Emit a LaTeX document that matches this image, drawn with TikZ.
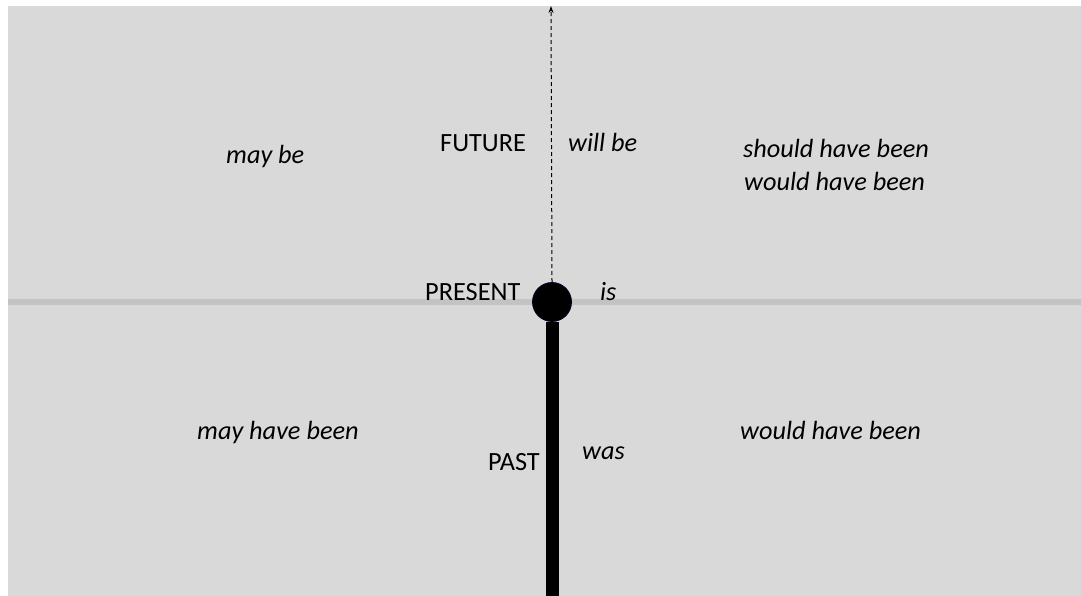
\documentclass[tikz,border=0pt]{standalone}
\usepackage{fontspec}
\setmainfont{Carlito}
\usetikzlibrary{arrows.meta}
\definecolor{bgray}{HTML}{D9D9D9}
\definecolor{lgray}{HTML}{C3C3C3}
\begin{document}
\begin{tikzpicture}[x=1pt,y=-1pt,
  lab/.style={anchor=base west,inner sep=0pt,yshift=-2pt,font=\fontsize{26.3}{32}\selectfont},
  ilab/.style={lab,font=\fontsize{26.3}{32}\selectfont\itshape}]
\useasboundingbox (0,0) rectangle (1081,596);
\fill[white] (0,0) rectangle (1081,596);
\fill[bgray] (8,6) rectangle (1081,596);
\coordinate (hl) at (8,302);
\coordinate (hr) at (1081,302);
\draw[lgray,line width=6pt] (hl) -- (hr);
\node[circle,fill=black,draw=black!85!blue,line width=0.8pt,minimum size=39pt,inner sep=0pt] (now) at (552,302) {};
\coordinate (top) at (551,6);
\coordinate (bot) at (552,596);
\draw[black,line width=13pt] (now.south) -- (bot);
\draw[black,line width=1pt,dash pattern=on 4pt off 3pt,-{Stealth[length=7pt,width=5pt]}] (now.north) -- (top);
\node[ilab] (maybe) at (226,162) {may be};
\node[lab] (future) at (440,150) {FUTURE};
\node[ilab] (willbe) at (568,150) {will be};
\node[ilab] (should) at (743,156) {should have been};
\node[ilab] (would1) at (744,188) {would have been};
\node[lab] (present) at (425,298) {PRESENT};
\node[ilab] (is) at (600,298) {is};
\node[ilab] (mayhave) at (197,437) {may have been};
\node[ilab] (would2) at (740,437) {would have been};
\node[lab] (past) at (488,468) {PAST};
\node[ilab] (was) at (582,457) {was};
\end{tikzpicture}
\end{document}
